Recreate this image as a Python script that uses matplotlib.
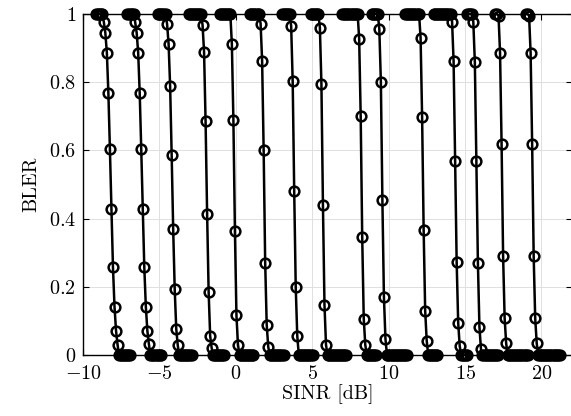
import numpy as np
import matplotlib
matplotlib.use("Agg")
import matplotlib.pyplot as plt

plt.rcParams["font.family"] = "cmr10"
plt.rcParams["mathtext.fontset"] = "cm"
plt.rcParams["axes.unicode_minus"] = False

SINR_STEP = 0.1

# SINR [dB] of the first point below 1 on each curve
sinr_first = [-8.64, -6.59, -4.50, -2.18, -0.26, 1.62, 3.62, 5.50,
              8.07, 9.39, 12.09, 14.15, 15.54, 17.19, 19.19]

# number of BLER = 1 points before, and BLER = 0 points after the drop
ones_before = [5, 5, 6, 9, 8, 7, 6, 6, 11, 5, 10, 12, 4, 2, 2]
zeros_after = [8, 8, 9, 8, 10, 10, 10, 13, 7, 14, 7, 5, 11, 14, 15]

# BLER values along the drop of each curve
bler_drop = [
    [0.977, 0.945, 0.886, 0.767, 0.603, 0.429, 0.257, 0.142, 0.071, 0.030],
    [0.977, 0.945, 0.886, 0.767, 0.603, 0.429, 0.257, 0.142, 0.071, 0.032],
    [0.971, 0.912, 0.789, 0.588, 0.369, 0.193, 0.077, 0.028],
    [0.969, 0.890, 0.685, 0.415, 0.185, 0.056, 0.020],
    [0.912, 0.690, 0.364, 0.116, 0.030],
    [0.972, 0.863, 0.601, 0.271, 0.089, 0.024],
    [0.965, 0.803, 0.480, 0.198, 0.056],
    [0.960, 0.795, 0.440, 0.148, 0.030],
    [0.928, 0.701, 0.345, 0.107, 0.030],
    [0.955, 0.802, 0.455, 0.171, 0.048],
    [0.930, 0.697, 0.367, 0.130, 0.042],
    [0.978, 0.861, 0.570, 0.273, 0.095, 0.026],
    [0.977, 0.859, 0.568, 0.271, 0.083, 0.018],
    [0.995, 0.886, 0.619, 0.290, 0.108, 0.034],
    [0.995, 0.886, 0.619, 0.290, 0.108, 0.034],
]

x_ticks = [-10, -5, 0, 5, 10, 15, 20]
x_tick_labels = ["$-10$", "$-5$", "$0$", "$5$", "$10$", "$15$", "$20$"]
y_ticks = [0, 0.2, 0.4, 0.6, 0.8, 1]
y_tick_labels = ["$0$", "$0.2$", "$0.4$", "$0.6$", "$0.8$", "$1$"]


def build_curve(first, n_ones, drop, n_zeros):
    bler = [1.0] * n_ones + list(drop) + [0.0] * n_zeros
    k = np.arange(len(bler)) - n_ones
    return first + SINR_STEP * k, bler


fig = plt.figure(figsize=(5.71, 4.16), dpi=100)
ax = fig.add_axes([0.1454, 0.1466, 0.8564, 0.8197])

for first, n1, drop, n0 in zip(sinr_first, ones_before, bler_drop, zeros_after):
    x, y = build_curve(first, n1, drop, n0)
    ax.plot(x, y, color="black", linewidth=1.8, marker="o", markersize=7,
            markerfacecolor="none", markeredgewidth=1.8, clip_on=False, zorder=3)

ax.set_xlim(-10, 22)
ax.set_ylim(0, 1)
ax.set_xticks(x_ticks)
ax.set_xticklabels(x_tick_labels)
ax.set_yticks(y_ticks)
ax.set_yticklabels(y_tick_labels)
ax.tick_params(direction="in", length=4, width=0.8, labelsize=14.5,
               top=True, right=True)
ax.tick_params(axis="x", pad=7)
ax.tick_params(axis="y", pad=5)
ax.grid(True, color="#e0e0e0", linewidth=0.7)
ax.set_axisbelow(True)
for spine in ax.spines.values():
    spine.set_linewidth(1.0)

ax.set_xlabel("SINR [dB]", fontsize=14.5, labelpad=1)
ax.set_ylabel("BLER", fontsize=14.5, labelpad=6)

fig.savefig("out.png", dpi=100)
